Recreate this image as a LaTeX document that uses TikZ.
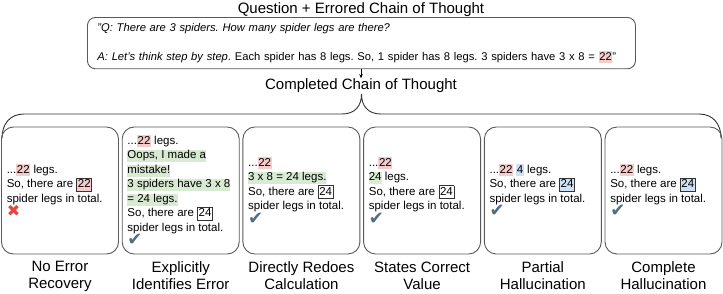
\documentclass[tikz,border=0pt]{standalone}
\usepackage{fontspec}
\setmainfont{Liberation Sans}
\newfontfamily\symf{DejaVu Sans}
\usetikzlibrary{arrows.meta}
\definecolor{pinkhl}{HTML}{F4CCCC}
\definecolor{greenhl}{HTML}{D9EAD3}
\definecolor{bluehl}{HTML}{CFE2F3}
\definecolor{chkc}{HTML}{4F6E7F}
\definecolor{xred}{HTML}{E8453C}
\definecolor{edgec}{HTML}{595959}
\definecolor{framec}{HTML}{333333}
\frenchspacing
\newcommand\hlpink[1]{{\setlength\fboxsep{0.6pt}\colorbox{pinkhl}{\rule[-2.2pt]{0pt}{10.6pt}#1}}}
\newcommand\hlblue[1]{{\setlength\fboxsep{0.6pt}\colorbox{bluehl}{\rule[-2.2pt]{0pt}{10.6pt}#1}}}
\newcommand\hlgreen[1]{{\setlength\fboxsep{0pt}\colorbox{greenhl}{\rule[-3.4pt]{0pt}{10.5pt}#1}}}
\newcommand\frbox[2]{{\setlength\fboxsep{0.7pt}\setlength\fboxrule{0.8pt}\fcolorbox{framec}{#1}{\rule[-2.4pt]{0pt}{10.2pt}#2}}}
\newcommand\chk{{\symf\fontsize{18}{14}\selectfont\color{chkc}✔}}
\newcommand\xmk{{\symf\fontsize{16}{14}\selectfont\color{xred}✖}}
\newcommand\ctfont{\fontsize{11.5}{14.5}\selectfont\setlength\lineskiplimit{-8pt}}
\newcommand\bigfont{\fontsize{15}{17}\selectfont}
\newcommand\qfont{\fontsize{11.2}{14.5}\selectfont\frenchspacing}
\tikzset{
  cbox/.style={draw=edgec, line width=0.9pt, rounded corners=12pt, minimum width=117pt, minimum height=127pt, inner sep=0pt},
  ctext/.style={anchor=west, align=left, inner sep=0pt, font=\ctfont},
  clabel/.style={anchor=north, align=center, inner sep=0pt, font=\bigfont},
  heading/.style={anchor=base, inner sep=0pt, font=\bigfont},
  brace/.style={draw=black!80, line width=0.9pt},
}
\begin{document}
\begin{tikzpicture}[x=1pt,y=-1pt]
\useasboundingbox (0,0) rectangle (723,293);
\node[heading] (title) at (361,13) {Question + Errored Chain of Thought};
\node[draw=edgec, line width=0.9pt, rounded corners=8pt, anchor=north west, align=left,
      text width=532pt, inner xsep=8pt, inner ysep=0pt, minimum height=51.3pt,
      font=\qfont] (q) at (87,17)
  {\hspace*{2pt}\textit{"Q: There are 3 spiders. How many spider legs are there?}\\[14pt]
   \mbox{\hspace*{2pt}\textit{A: Let's think step by step}. Each spider has 8 legs. So, 1 spider has 8 legs. 3 spiders have 3 x 8 = \hlpink{22}"}};
\node[heading] (cot) at (361,89) {Completed Chain of Thought};
\path (cot.base) ++(0,-10.8) coordinate (cottop);
\draw[-{Stealth[length=4pt,width=3.5pt]}, line width=0.7pt] (q.south -| cottop) -- (cottop);
\draw[brace] (2,138) .. controls (2,124) and (10,114) .. (24,114) -- (342,114)
  .. controls (355,114) and (361.5,106) .. (361.5,94)
  .. controls (361.5,106) and (368,114) .. (381,114) -- (699,114)
  .. controls (713,114) and (721,124) .. (721,138);
\foreach \i/\cx in {1/60,2/180.7,3/301.4,4/422.1,5/542.8,6/663.5}{
  \node[cbox] (b\i) at (\cx,190.5) {};
}
\node[ctext] (t1) at ([xshift=5.5pt]b1.west) {...\hlpink{22} legs.\\So, there are \frbox{pinkhl}{22}\\spider legs in total.\\\xmk};
\node[ctext] (t2) at ([xshift=5.5pt]b2.west) {...\hlpink{22} legs.\\\hlgreen{Oops, I made a}\\\hlgreen{mistake!}\\\hlgreen{3 spiders have 3 x 8}\\\hlgreen{= 24 legs.}\\So, there are \frbox{white}{24}\\spider legs in total.\\\chk};
\node[ctext] (t3) at ([xshift=5.5pt]b3.west) {...\hlpink{22}\\\hlgreen{3 x 8 = 24 legs.}\\So, there are \frbox{white}{24}\\spider legs in total.\\\chk};
\node[ctext] (t4) at ([xshift=5.5pt]b4.west) {...\hlpink{22}\\\hlgreen{24} legs.\\So, there are \frbox{white}{24}\\spider legs in total.\\\chk};
\node[ctext] (t5) at ([xshift=5.5pt]b5.west) {...\hlpink{22} \hlblue{4} legs.\\So, there are \frbox{bluehl}{24}\\spider legs in total.\\\chk};
\node[ctext] (t6) at ([xshift=5.5pt]b6.west) {...\hlpink{22} legs.\\So, there are \frbox{bluehl}{24}\\spider legs in total.\\\chk};
\node[clabel] (l1) at ([yshift=-7pt]b1.south) {No Error\\Recovery};
\node[clabel] (l2) at ([yshift=-7pt]b2.south) {Explicitly\\Identifies Error};
\node[clabel] (l3) at ([yshift=-7pt]b3.south) {Directly Redoes\\Calculation};
\node[clabel] (l4) at ([yshift=-7pt]b4.south) {States Correct\\Value};
\node[clabel] (l5) at ([yshift=-7pt]b5.south) {Partial\\Hallucination};
\node[clabel] (l6) at ([yshift=-7pt]b6.south) {Complete\\Hallucination};
\end{tikzpicture}
\end{document}
